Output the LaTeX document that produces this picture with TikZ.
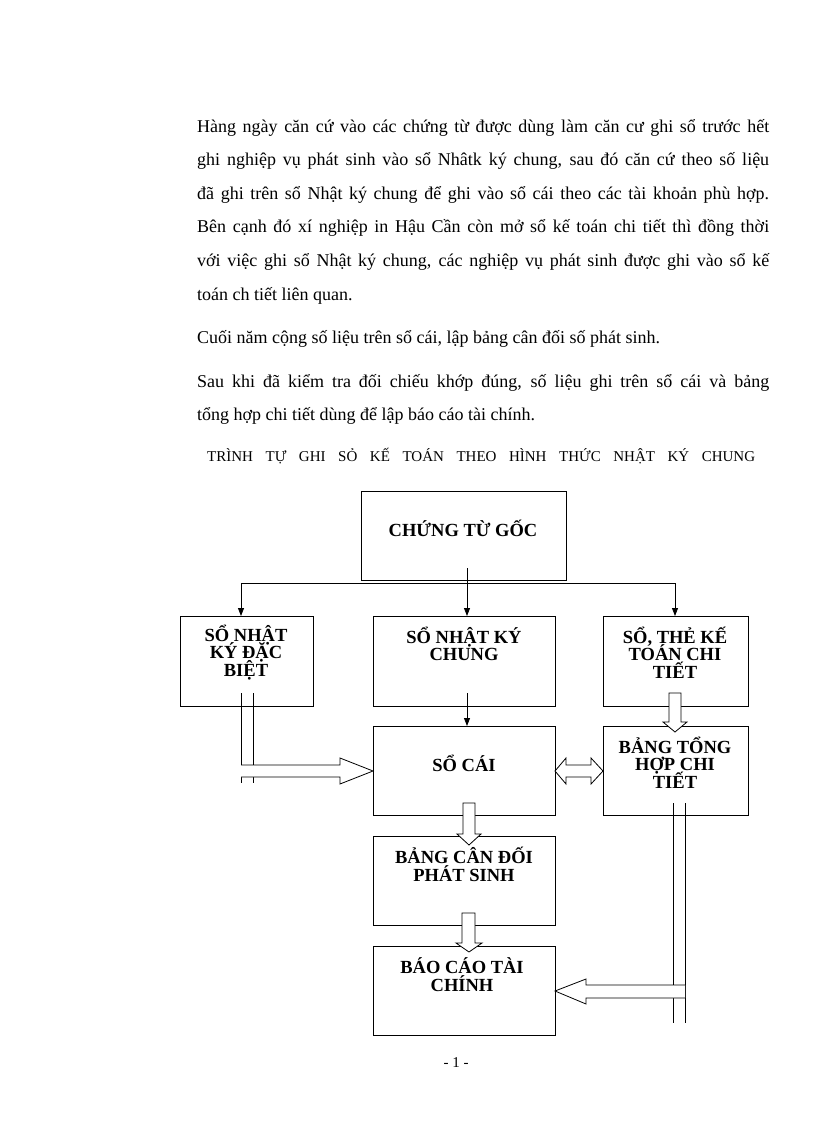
\documentclass[tikz,border=0pt]{standalone}
\usepackage{fontspec}
\setmainfont{Liberation Serif}
\usetikzlibrary{arrows.meta,calc}
\newcommand{\myboxfont}{\bfseries\fontsize{18.5}{17.5}\selectfont\lineskiplimit=-30pt\relax\lineskip=0pt\relax}
\begin{document}
\begin{tikzpicture}[x=1pt,y=-1pt,
  box/.style={draw, line width=1pt, inner sep=0pt, outer sep=0pt, rectangle},
  btxt/.style={align=center, inner sep=0pt, font=\myboxfont},
  body/.style={anchor=base west, inner sep=0pt, font=\fontsize{18}{18}\selectfont},
  conn/.style={line width=0.8pt},
  arr/.style={line width=0.8pt, -{Triangle[width=6pt,length=8pt]}},
  hollow/.style={draw, line width=0.8pt, fill=white, line join=miter}
]
\useasboundingbox (0,0) rectangle (816,1123);
\fill[white] (0,0) rectangle (816,1123);

% body text
\node[body] (l1) at (197,132.5) {\makebox[572pt][s]{Hàng ngày căn cứ vào các chứng từ được dùng làm căn cư ghi sổ trước hết}};
\node[body] (l2) at (197,166) {\makebox[572pt][s]{ghi nghiệp vụ phát sinh vào sổ Nhâtk ký chung, sau đó căn cứ theo số liệu}};
\node[body] (l3) at (197,199.5) {\makebox[572pt][s]{đã ghi trên sổ Nhật ký chung để ghi vào sổ cái theo các tài khoản phù hợp.}};
\node[body] (l4) at (197,233) {\makebox[572pt][s]{Bên cạnh đó xí nghiệp in Hậu Cần còn mở sổ kế toán chi tiết thì đồng thời}};
\node[body] (l5) at (197,266.5) {\makebox[572pt][s]{với việc ghi sổ Nhật ký chung, các nghiệp vụ phát sinh được ghi vào sổ kế}};
\node[body] (l6) at (197,300) {toán ch tiết liên quan.};
\node[body] (l7) at (197,343.5) {Cuối năm cộng số liệu trên sổ cái, lập bảng cân đối số phát sinh.};
\node[body] (l8) at (197,387.5) {\makebox[572pt][s]{Sau khi đã kiểm tra đối chiếu khớp đúng, số liệu ghi trên sổ cái và bảng}};
\node[body] (l9) at (197,420.5) {tổng hợp chi tiết dùng để lập báo cáo tài chính.};
\node[anchor=base west, inner sep=0pt, font=\fontsize{15}{15}\selectfont] (title) at (207,461.5)
  {\makebox[548pt][s]{TRÌNH TỰ GHI SỎ KẾ TOÁN THEO HÌNH THỨC NHẬT KÝ CHUNG}};

% boxes
\node[box, minimum width=205pt, minimum height=89pt] (goc) at (463.5,535.5) {};
\node[box, minimum width=133pt, minimum height=90pt] (nkdb) at (246.5,661) {};
\node[box, minimum width=182pt, minimum height=90pt] (nkc) at (464,661) {};
\node[box, minimum width=145pt, minimum height=90pt] (sthe) at (675.5,661) {};
\node[box, minimum width=182pt, minimum height=89pt] (socai) at (464,770.5) {};
\node[box, minimum width=145pt, minimum height=89pt] (bth) at (675.5,770.5) {};
\node[box, minimum width=182pt, minimum height=89pt] (bcd) at (464,880.5) {};
\node[box, minimum width=182pt, minimum height=89pt] (bctc) at (464,990.5) {};

% box texts
\node[btxt] (goct) at (463,528) {CHỨNG TỪ GỐC};
\node[btxt] (nkdbt) at (246,652.5) {SỔ NHẬT\\KÝ ĐẶC\\BIỆT};
\node[btxt] (nkct) at (464,644) {SỔ NHẬT KÝ\\CHUNG};
\node[btxt] (sthet) at (675,652.5) {SỔ, THẺ KẾ\\TOÁN CHI\\TIẾT};
\node[btxt] (socait) at (464,763) {SỔ CÁI};
\node[btxt] (btht) at (675,762.5) {BẢNG TỔNG\\HỢP CHI\\TIẾT};
\node[btxt] (bcdt) at (464,864.5) {BẢNG CÂN ĐỐI\\PHÁT SINH};
\node[btxt] (bctct) at (462,974.5) {BÁO CÁO TÀI\\CHÍNH};

% page number
\node[inner sep=0pt, font=\fontsize{15}{15}\selectfont] (pg) at (456,1063) {- 1 -};

% thin connectors from CHỨNG TỪ GỐC
\coordinate (gstem) at (467,568);
\coordinate (bmid) at (467,583);
\coordinate (bl) at (241,583);
\coordinate (br) at (675,583);
\draw[conn] (gstem) -- (bmid);
\draw[conn] (bl) -- (br);
\draw[arr] (bl) -- (bl |- nkdb.north);
\draw[arr] (bmid) -- (bmid |- nkc.north);
\draw[arr] (br) -- (br |- sthe.north);

% nhat ky chung -> so cai
\coordinate (nstem) at (467,693);
\draw[arr] (nstem) -- (nstem |- socai.north);

% left double line + hollow arrow to so cai
\coordinate (ld1) at (241,693);
\coordinate (ld2) at (253,693);
\draw[conn] (ld1) -- ++(0,90);
\draw[conn] (ld2) -- ++(0,90);
\draw[hollow] (241,765) -- (340,765) -- (340,758) -- (socai.west |- 0,771) -- (340,784) -- (340,777) -- (241,777);

% double arrow between so cai and bang tong hop
\draw[hollow] (socai.east |- 0,771) -- (566,758) -- (566,765) -- (591,765) -- (591,758) -- (bth.west |- 0,771)
  -- (591,784) -- (591,777) -- (566,777) -- (566,784) -- cycle;

% so the -> bang tong hop
\draw[hollow] (669,693) -- (669,722) -- (663,722) -- (675,732) -- (687,722) -- (681,722) -- (681,693) -- cycle;

% so cai -> bang can doi
\draw[hollow] (463,803) -- (463,834) -- (457,834) -- (469,845) -- (481,834) -- (475,834) -- (475,803) -- cycle;

% bang can doi -> bao cao
\draw[hollow] (462,913) -- (462,943) -- (456,943) -- (469,952) -- (482,943) -- (475,943) -- (475,913) -- cycle;

% right double line + hollow arrow to bao cao
\coordinate (rd1) at (673,803);
\coordinate (rd2) at (685,803);
\draw[conn] (rd1) -- ++(0,220);
\draw[conn] (rd2) -- ++(0,220);
\draw[hollow] (685,985) -- (586,985) -- (586,979) -- (bctc.east |- 0,991) -- (586,1004) -- (586,998) -- (685,998);
\end{tikzpicture}
\end{document}
